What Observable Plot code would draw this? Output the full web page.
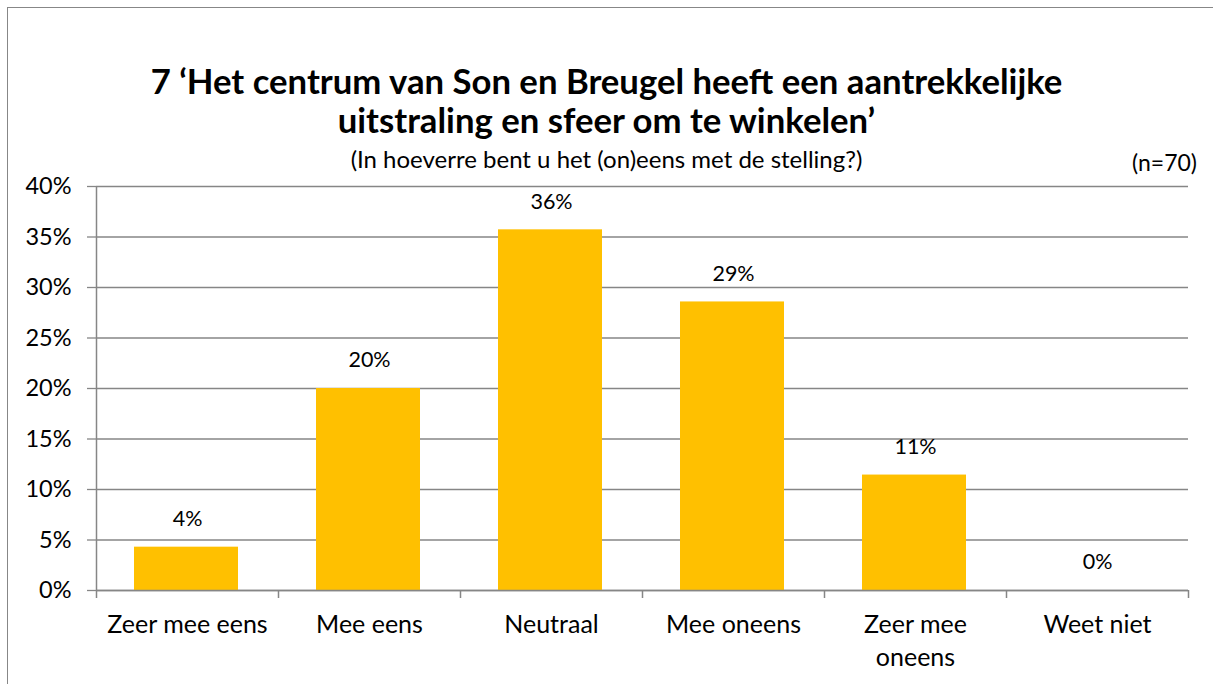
<!DOCTYPE html>
<html>
<head>
<meta charset="utf-8">
<script src="https://cdn.jsdelivr.net/npm/d3@7"></script>
<script src="https://cdn.jsdelivr.net/npm/@observablehq/plot@0.6"></script>
<style>
  html, body { margin: 0; padding: 0; background: #fff; }
  body { width: 1213px; height: 684px; overflow: hidden; position: relative; font-family: Lato, "Open Sans", sans-serif; color: #000; }
  #frame { position: absolute; left: 7px; top: 7px; width: 1220px; height: 700px; border: 1.5px solid #878787; box-sizing: border-box; }
  .t { position: absolute; white-space: nowrap; }
  #title { left: 0; width: 1213px; top: 61px; text-align: center; font-weight: bold; font-size: 34.7px; line-height: 39px; }
  #subtitle { left: 0; width: 1213px; top: 145px; text-align: center; font-size: 24px; line-height: 28px; }
  #n { right: 16px; top: 148px; font-size: 23px; line-height: 28px; }
  #chart { position: absolute; left: 0; top: 0; }
</style>
</head>
<body>
<div id="frame"></div>
<div id="chart"></div>
<div class="t" id="title">7 ‘Het centrum van Son en Breugel heeft een aantrekkelijke<br>uitstraling en sfeer om te winkelen’</div>
<div class="t" id="subtitle">(In hoeverre bent u het (on)eens met de stelling?)</div>
<div class="t" id="n">(n=70)</div>
<script>
const categories = ["Zeer mee eens", "Mee eens", "Neutraal", "Mee oneens", "Zeer mee oneens", "Weet niet"];
const tickLabels = ["Zeer mee eens", "Mee eens", "Neutraal", "Mee oneens", "Zeer mee\noneens", "Weet niet"];
const values = [4.29, 20, 35.71, 28.57, 11.43, 0];
const valueLabels = ["4%", "20%", "36%", "29%", "11%", "0%"];

const data = categories.map((c, i) => ({i, category: c, label: tickLabels[i], value: values[i], text: valueLabels[i]}));
const gray = "#868686";

const chart = Plot.plot({
  width: 1213,
  height: 684,
  marginLeft: 96,
  marginRight: 25,
  marginTop: 186,
  marginBottom: 94,
  style: {fontFamily: "Lato, 'Open Sans', sans-serif", fontSize: "20px", color: "#000", background: "transparent"},
  x: {type: "linear", domain: [0, categories.length]},
  y: {domain: [0, 40]},
  marks: [
    Plot.gridY({interval: 5, stroke: gray, strokeOpacity: 1, strokeWidth: 1.3}),
    Plot.rectY(data, {x1: d => d.i, x2: d => d.i + 1, y1: 0, y2: "value", fill: "#FFC000", insetLeft: 38, insetRight: 40}),
    Plot.text(data, {x: d => d.i + 0.5, y: "value", text: "text", dy: -28, fontSize: 21.5, fill: "#000"}),
    Plot.ruleY([0], {stroke: gray, strokeWidth: 1.5}),
    Plot.ruleX([0], {stroke: gray, strokeWidth: 1.5}),
    Plot.axisY({interval: 5, tickSize: 9, tickPadding: 16, tickFormat: d => d + "%", fontSize: 23.5, stroke: gray, strokeWidth: 1.3, fill: "#000", label: null}),
    Plot.axisX({ticks: d3.range(0, categories.length + 1), tickSize: 8, tickFormat: () => "", stroke: gray, strokeWidth: 1.5, label: null}),
    Plot.axisX({ticks: data.map(d => d.i + 0.5), tickSize: 0, tickPadding: 19, tickFormat: d => tickLabels[Math.floor(d)], fontSize: 25, lineHeight: 1.32, fill: "#000", label: null})
  ]
});
document.getElementById("chart").appendChild(chart);
</script>
</body>
</html>
